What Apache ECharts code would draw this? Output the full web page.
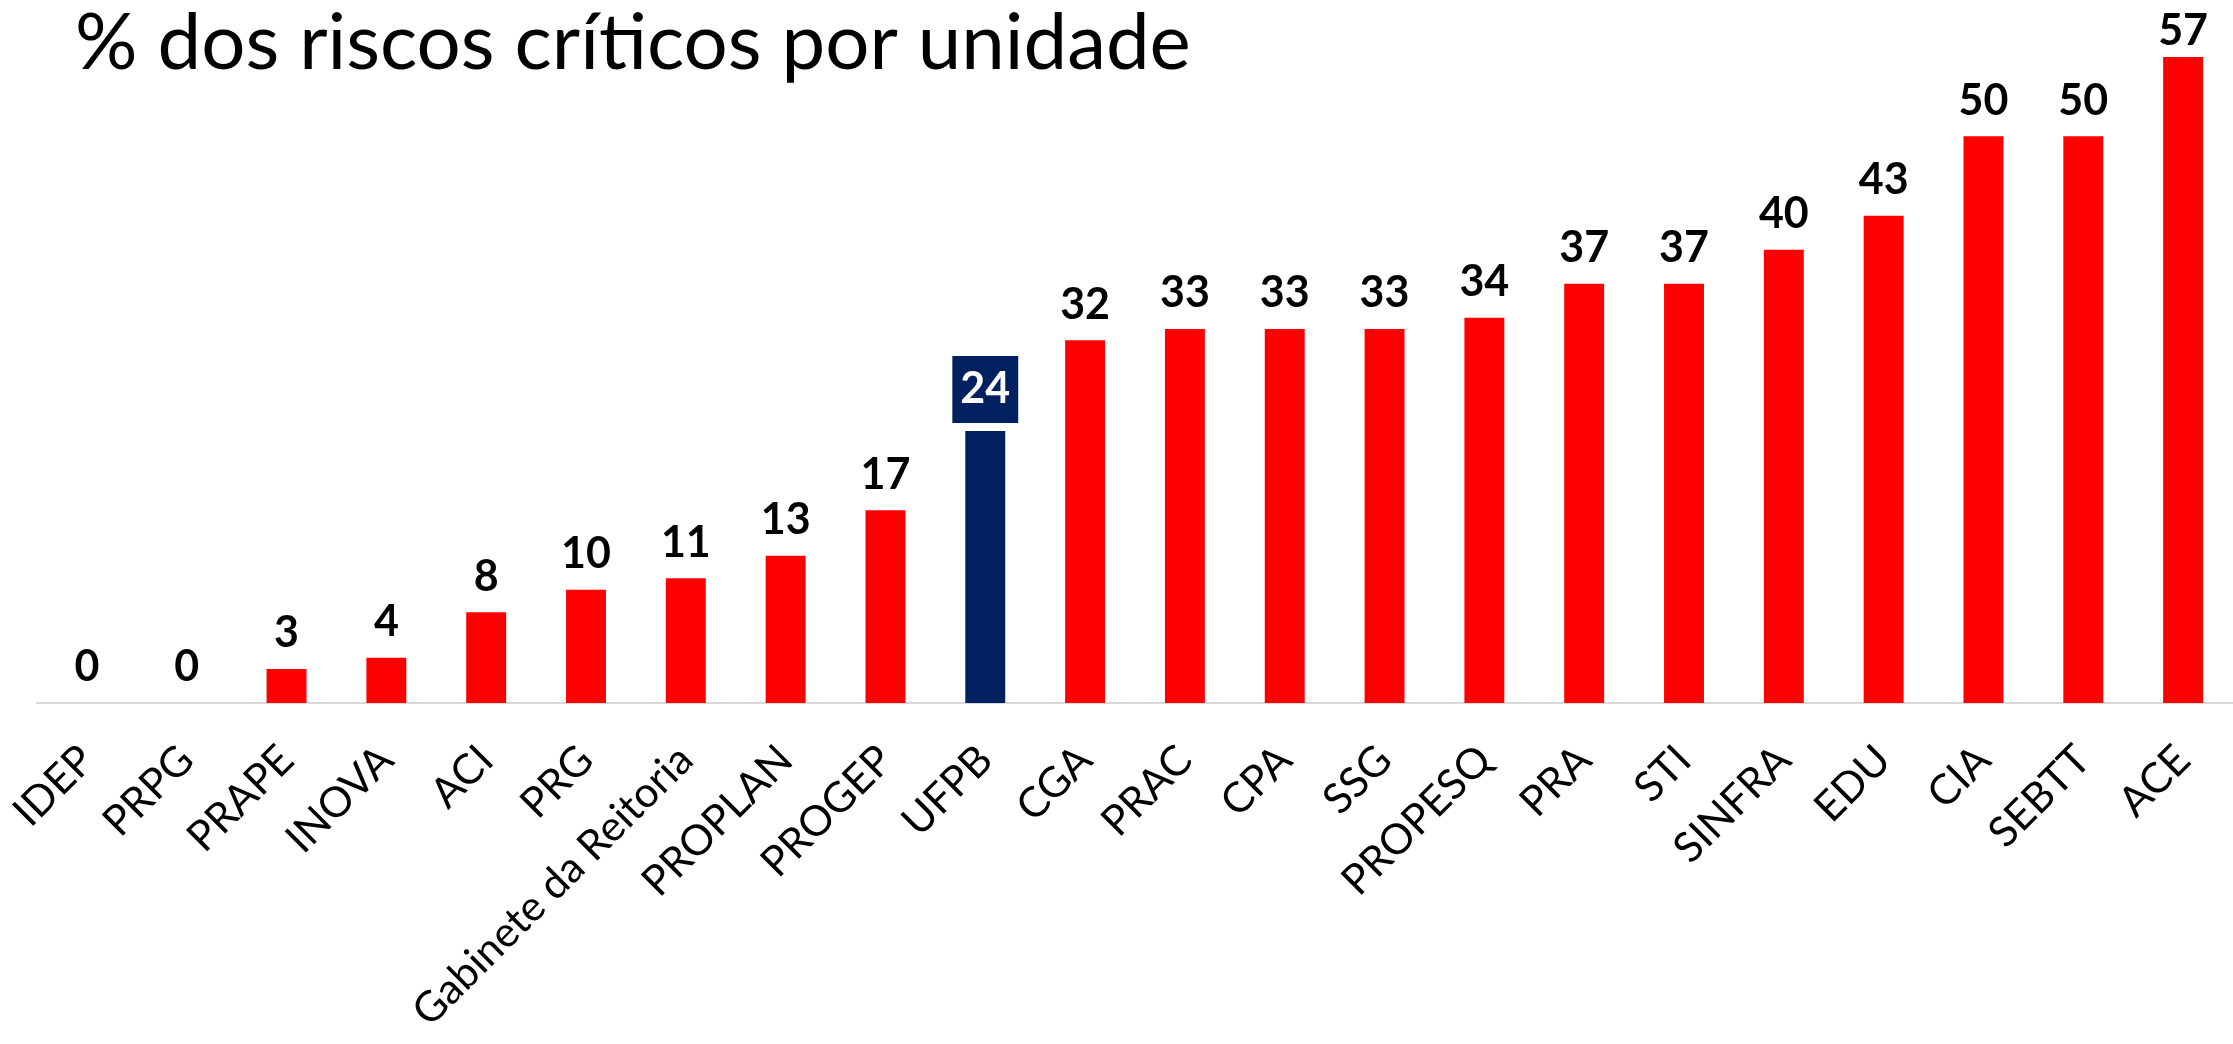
<!DOCTYPE html>
<html>
<head>
<meta charset="utf-8">
<script src="https://cdn.jsdelivr.net/npm/echarts@6/dist/echarts.min.js"></script>
<style>
html,body{margin:0;padding:0;background:#fff;}
#chart{width:2233px;height:1044px;}
</style>
</head>
<body>
<div id="chart"></div>
<script>
const titleText = '% dos riscos críticos por unidade';
const categories = ['IDEP','PRPG','PRAPE','INOVA','ACI','PRG','Gabinete da Reitoria','PROPLAN','PROGEP','UFPB','CGA','PRAC','CPA','SSG','PROPESQ','PRA','STI','SINFRA','EDU','CIA','SEBTT','ACE'];
const values = [0,0,3,4,8,10,11,13,17,24,32,33,33,33,34,37,37,40,43,50,50,57];
const highlight = 'UFPB';

const RED = '#FF0000';
const NAVY = '#002060';
const FONT = 'Lato, "Open Sans", sans-serif';
const maxVal = Math.max.apply(null, values);

const seriesData = categories.map((c, i) => {
  if (c === highlight) {
    return {
      value: values[i],
      itemStyle: { color: NAVY },
      label: {
        color: '#fff',
        backgroundColor: NAVY,
        padding: [12, 8, 12, 8],
        distance: 8
      }
    };
  }
  if (values[i] === maxVal) {
    // label pushed down near the top edge, as in the reference
    return { value: values[i], label: { distance: 4 } };
  }
  return { value: values[i] };
});

const chart = echarts.init(document.getElementById('chart'));
chart.setOption({
  animation: false,
  backgroundColor: '#fff',
  title: {
    text: titleText,
    left: 70,
    top: 0,
    textStyle: { fontFamily: FONT, fontWeight: 'normal', fontSize: 78, color: '#000' }
  },
  grid: { left: 37, top: 23, width: 2219, bottom: 341, containLabel: false },
  xAxis: {
    type: 'category',
    data: categories,
    axisLine: { lineStyle: { color: '#D9D9D9', width: 2 } },
    axisTick: { show: false },
    axisLabel: {
      interval: 0,
      rotate: 45,
      margin: 50,
      fontFamily: FONT,
      fontSize: 42,
      color: '#000'
    }
  },
  yAxis: {
    type: 'value',
    min: 0,
    max: 60,
    show: false,
    splitLine: { show: false }
  },
  series: [{
    type: 'bar',
    data: seriesData,
    barCategoryGap: '60%',
    itemStyle: { color: RED },
    label: {
      show: true,
      position: 'top',
      distance: 14,
      fontFamily: FONT,
      fontWeight: 'bold',
      fontSize: 43,
      color: '#000'
    }
  }]
});
</script>
</body>
</html>
